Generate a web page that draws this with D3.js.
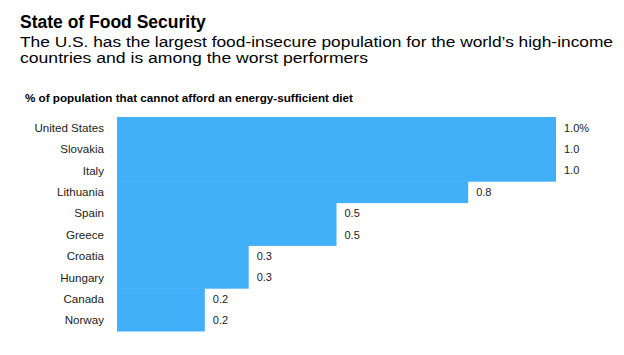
<!DOCTYPE html>
<html>
<head>
<meta charset="utf-8">
<script src="https://cdn.jsdelivr.net/npm/d3@7"></script>
<style>
  html, body { margin: 0; padding: 0; background: #fff; }
  svg { display: block; }
  text { font-family: "Liberation Sans", Arial, Helvetica, sans-serif; }
</style>
</head>
<body>
<svg id="chart" width="624" height="355"></svg>
<script>
const countries = ["United States", "Slovakia", "Italy", "Lithuania", "Spain", "Greece", "Croatia", "Hungary", "Canada", "Norway"];
const values = [1.0, 1.0, 1.0, 0.8, 0.5, 0.5, 0.3, 0.3, 0.2, 0.2];
const valueLabels = ["1.0%", "1.0", "1.0", "0.8", "0.5", "0.5", "0.3", "0.3", "0.2", "0.2"];

const title = "State of Food Security";
const subtitleLines = ["The U.S. has the largest food-insecure population for the world\u2019s high-income", "countries and is among the worst performers"];
const subtitleWidths = [593, 348];
const axisTitle = "% of population that cannot afford an energy-sufficient diet";

const data = countries.map((c, i) => ({ country: c, value: values[i], label: valueLabels[i] }));

const svg = d3.select("#chart");

svg.append("text").attr("x", 20).attr("y", 27.5)
  .attr("font-size", 17.5).attr("font-weight", "bold").attr("fill", "#000").text(title);

svg.selectAll("text.sub").data(subtitleLines).join("text").attr("class", "sub")
  .attr("x", 20).attr("y", (d, i) => 46.5 + i * 16)
  .attr("font-size", 15.5).attr("fill", "#000")
  .attr("textLength", (d, i) => subtitleWidths[i]).attr("lengthAdjust", "spacingAndGlyphs")
  .text(d => d);

svg.append("text").attr("x", 25).attr("y", 102)
  .attr("font-size", 10.3).attr("font-weight", "bold").attr("fill", "#000")
  .attr("textLength", 328).attr("lengthAdjust", "spacingAndGlyphs").text(axisTitle);

const x = d3.scaleLinear().domain([0, 1.0]).range([117, 556]);
const y = d3.scaleBand().domain(countries).range([117, 331]).paddingInner(0).paddingOuter(0);

svg.append("g").selectAll("rect").data(data).join("rect")
  .attr("x", x(0)).attr("y", d => y(d.country))
  .attr("width", d => x(d.value) - x(0)).attr("height", y.bandwidth() + 0.5)
  .attr("fill", "#42aff9");

svg.append("g").selectAll("text").data(data).join("text")
  .attr("x", 104).attr("y", d => y(d.country) + y.bandwidth() / 2)
  .attr("dy", "0.35em").attr("text-anchor", "end")
  .attr("font-size", 11.6).attr("fill", "#222").text(d => d.country);

svg.append("g").selectAll("text").data(data).join("text")
  .attr("x", d => x(d.value) + 8).attr("y", d => y(d.country) + y.bandwidth() / 2)
  .attr("dy", "0.35em")
  .attr("font-size", 11).attr("fill", "#222").text(d => d.label);
</script>
</body>
</html>
